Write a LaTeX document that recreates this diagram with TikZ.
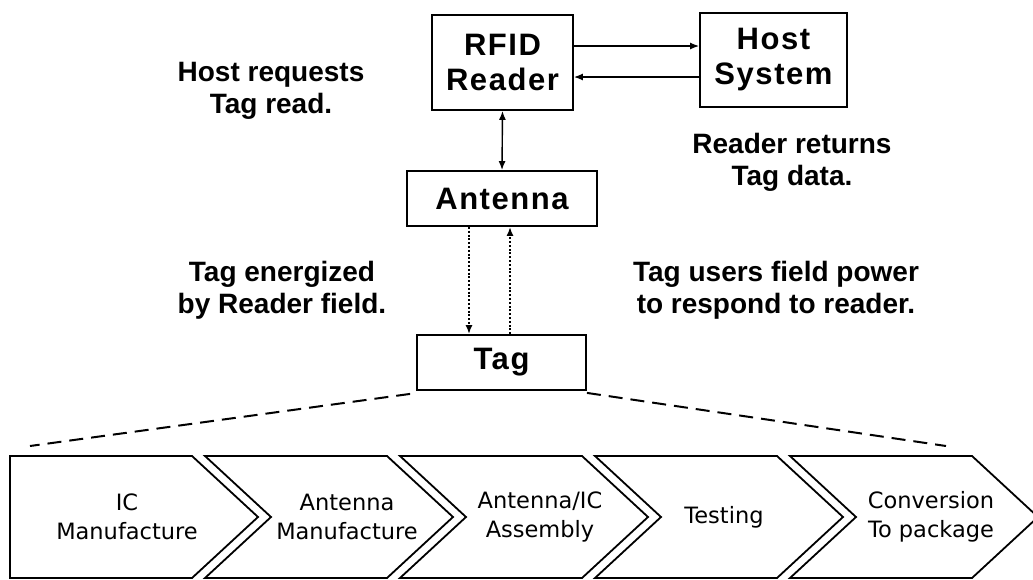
\documentclass[tikz,border=0pt]{standalone}
\usepackage{fontspec}
\setmainfont{Liberation Sans}
\newfontfamily\stagefont{DejaVu Sans}
\newfontfamily\boxfont[LetterSpace=5]{Liberation Sans}
\usetikzlibrary{arrows.meta,positioning}

\begin{document}
\begin{tikzpicture}[x=1pt,y=-1pt,>={Latex[length=9pt,width=7pt]},
	box/.style={draw, line width=1.8pt, align=center, inner sep=0pt, font=\boxfont\fontsize{31}{35}\selectfont\bfseries},
	note/.style={align=center, font=\fontsize{28}{32}\selectfont\bfseries},
	stage/.style={align=center, font=\stagefont\fontsize{22.5}{29}\selectfont},
	stagebox/.style={draw, line width=1.8pt, line join=miter},
	link/.style={->, line width=1.4pt},
	ray/.style={->, line width=2pt, dash pattern=on 2pt off 1.8pt},
	fan/.style={line width=2pt, dash pattern=on 14pt off 8pt}]
	\useasboundingbox (0,0) rectangle (1033,579);
	% boxes
	\node[box, minimum width=141pt, minimum height=95pt] (reader) at (502.5,62.5) {RFID\\Reader};
	\node[box, minimum width=147pt, minimum height=94pt] (host) at (773.5,60) {Host\\System};
	\node[box, minimum width=190pt, minimum height=55pt] (antenna) at (502,198.5) {Antenna};
	\node[box, minimum width=169pt, minimum height=55pt] (tag) at (501.5,362.5) {Tag};
	% notes
	\node[note] (request) at (271,90.5) {Host requests\\Tag read.};
	\node[note] (return) at (792,162) {Reader returns\\Tag data.};
	\node[note] (energize) at (282,290.5) {Tag energized\\by Reader field.};
	\node[note] (respond) at (776,290) {Tag users field power\\to respond to reader.};
	% links
	\draw[link] ([yshift=16.5pt]reader.east) -- ([yshift=16.5pt]reader.east -| host.west);
	\draw[link] ([yshift=-14.5pt]reader.east -| host.west) -- ([yshift=-14.5pt]reader.east);
	\draw[link, <->] (reader.south) -- (antenna.north);
	\draw[ray] ([xshift=-33pt]antenna.south) -- ([xshift=-33pt]antenna.south |- tag.north);
	\draw[ray] ([xshift=8pt]antenna.south |- tag.north) -- ([xshift=8pt]antenna.south);
	% process chain
	\foreach \xl/\dn in {10/0,205/66,400/66,595/66,790/66}
		\draw[stagebox] (\xl,456) -- ++(182,0) -- ++(66,61) -- ++(-66,61) -- ++(-182,0) -- ++(\dn,-61) -- cycle;
	\node[stage] (icmake) at (127,517) {IC\\Manufacture};
	\node[stage] (antmake) at (347,517) {Antenna\\Manufacture};
	\node[stage] (assembly) at (540,517) {Antenna/IC\\Assembly};
	\node[stage] (testing) at (724,517) {Testing};
	\node[stage] (convert) at (931,517) {Conversion\\To package};
	\coordinate (fanleft) at (30,446);
	\coordinate (fanright) at (946,446);
	\draw[fan] ([xshift=-6pt,yshift=-3pt]tag.south west) -- (fanleft);
	\draw[fan] ([yshift=-2pt]tag.south east) -- (fanright);
\end{tikzpicture}
\end{document}
